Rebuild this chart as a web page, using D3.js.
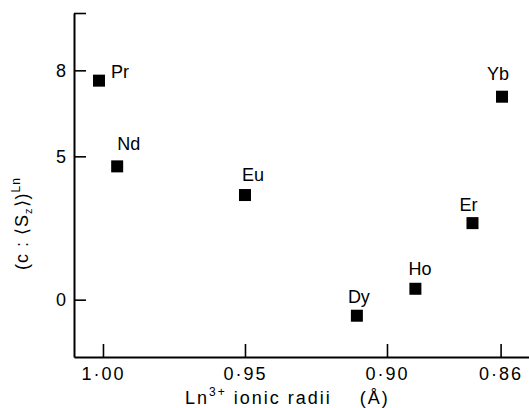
<!DOCTYPE html>
<html>
<head>
<meta charset="utf-8">
<script src="https://cdn.jsdelivr.net/npm/d3@7"></script>
<style>
  html, body { margin: 0; padding: 0; background: #fff; }
  svg { display: block; font-family: "Liberation Sans", Arial, sans-serif; }
</style>
</head>
<body>
<svg id="chart" width="529" height="408"></svg>
<script>
// ---- data ----
const elements = ["Pr", "Nd", "Eu", "Dy", "Ho", "Er", "Yb"];
const ionicRadii = [1.0014, 0.995, 0.950, 0.9106, 0.890, 0.8699, 0.8595];
const cSz = [7.64, 4.65, 3.65, -0.56, 0.38, 2.67, 7.08];
const xTicks = [1.00, 0.95, 0.90, 0.86];
const xTickLabels = ["1·00", "0·95", "0·90", "0·86"];
const yTicks = [0, 5, 8, 10];
const yTickLabels = ["0", "5", "8", ""];

// ---- layout ----
const svg = d3.select("#chart");
const x = d3.scaleLinear().domain([1.0102, 0.85]).range([74, 529]);
const y = d3.scaleLinear().domain([-2, 10]).range([357, 13]);

// label offsets (text start relative to marker centre)
const labelOffset = {
  Pr: [12, -3], Nd: [0, -16], Eu: [-3, -14], Dy: [-9, -13],
  Ho: [-7, -14], Er: [-13, -12], Yb: [-15, -17]
};

// axes
const yAxis = d3.axisLeft(y)
  .tickValues(yTicks)
  .tickSizeInner(-12).tickSizeOuter(0).tickPadding(8)
  .tickFormat((d, i) => yTickLabels[i]);
const gy = svg.append("g").attr("transform", "translate(74,0)").call(yAxis);

const xAxis = d3.axisBottom(x)
  .tickValues(xTicks)
  .tickSizeInner(-13).tickSizeOuter(0).tickPadding(10)
  .tickFormat((d, i) => xTickLabels[i]);
const gx = svg.append("g").attr("transform", "translate(0,357)").call(xAxis);

[gx, gy].forEach(g => {
  g.select(".domain").attr("stroke", "#000").attr("stroke-width", 2);
  g.selectAll(".tick line").attr("stroke", "#000").attr("stroke-width", 1.6);
  g.selectAll(".tick text").attr("fill", "#000")
    .attr("font-family", "Liberation Sans, Arial, sans-serif")
    .attr("font-size", 18);
});
gx.selectAll(".tick text").attr("letter-spacing", 2);

// markers
const pts = elements.map((e, i) => ({ e, r: ionicRadii[i], v: cSz[i] }));
const ms = 12;
svg.append("g").selectAll("rect").data(pts).join("rect")
  .attr("x", d => x(d.r) - ms / 2)
  .attr("y", d => y(d.v) - ms / 2)
  .attr("width", ms).attr("height", ms)
  .attr("fill", "#000");

svg.append("g").selectAll("text").data(pts).join("text")
  .attr("x", d => x(d.r) + labelOffset[d.e][0])
  .attr("y", d => y(d.v) + labelOffset[d.e][1])
  .attr("font-size", 18)
  .attr("fill", "#000")
  .text(d => d.e);

// x axis title
const xt = svg.append("text")
  .attr("x", 185).attr("y", 404)
  .attr("font-size", 18).attr("fill", "#000").attr("letter-spacing", 2);
xt.append("tspan").text("Ln");
xt.append("tspan").attr("font-size", 12).attr("dy", -8).text("3+");
xt.append("tspan").attr("dy", 8).text(" ionic radii");
xt.append("tspan").attr("dx", 28).text("(Å)");

// y axis title
const yt = svg.append("text")
  .attr("transform", "translate(28,270) rotate(-90)")
  .attr("font-size", 18).attr("fill", "#000").attr("letter-spacing", 1);
yt.append("tspan").text("(c : ⟨S");
yt.append("tspan").attr("font-size", 11).attr("dy", 4).text("z");
yt.append("tspan").attr("dy", -4).text("⟩)");
yt.append("tspan").attr("font-size", 12).attr("dy", -8).text("Ln");
</script>
</body>
</html>
